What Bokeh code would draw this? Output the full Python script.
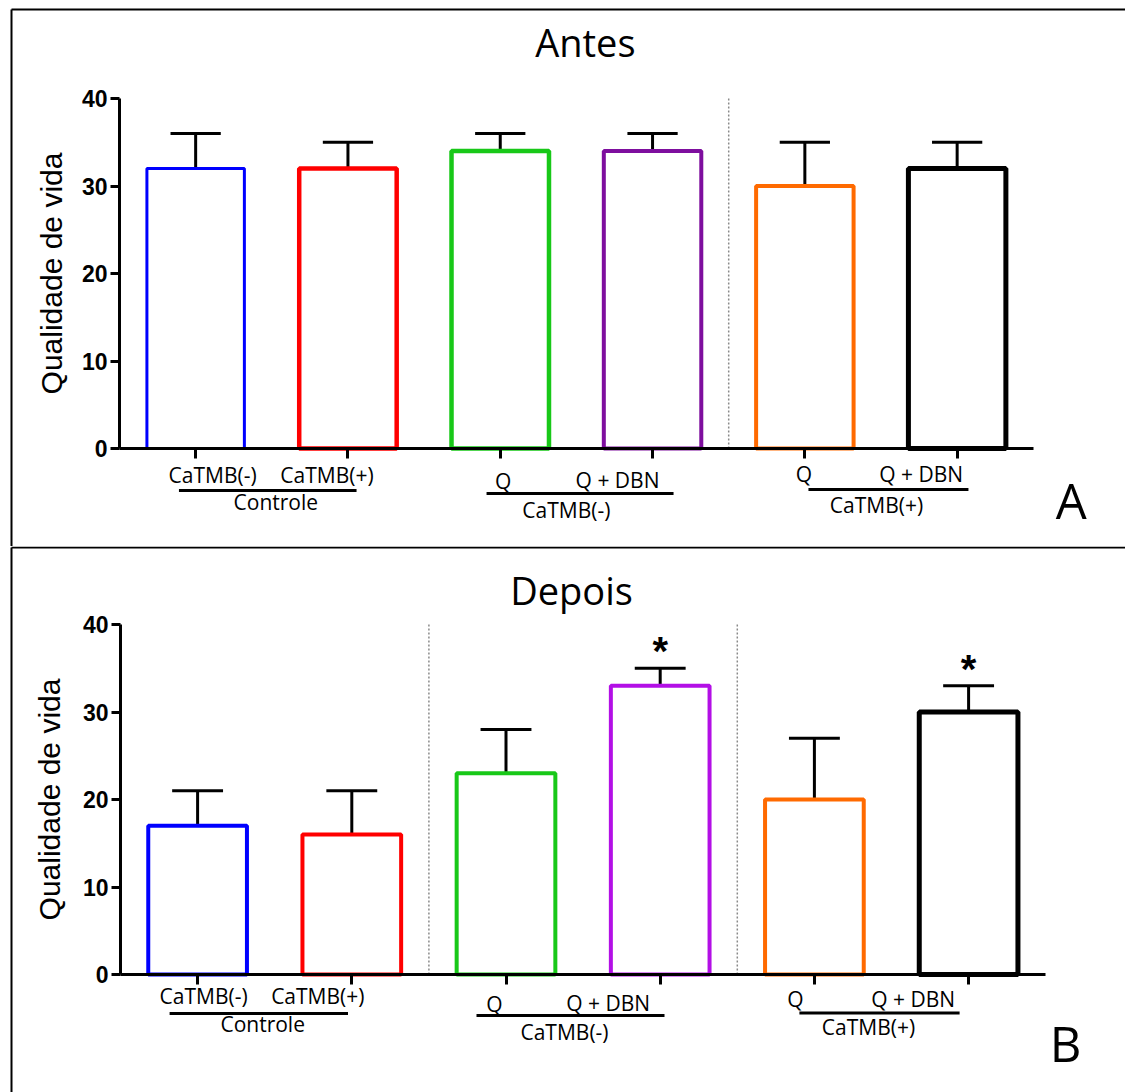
import math
from bokeh.plotting import figure
from bokeh.layouts import column
from bokeh.models import Range1d, LinearAxis, FixedTicker, ColumnDataSource
from bokeh.core.properties import value
from bokeh.embed import file_html
from bokeh.resources import INLINE

# ---------------- data ----------------
group_names = ["Controle", "CaTMB(-)", "CaTMB(+)"]
sub_labels = ["CaTMB(-)", "CaTMB(+)", "Q", "Q + DBN", "Q", "Q + DBN"]
antes_mean = [32, 32, 34, 34, 30, 32]
antes_err = [4, 3, 2, 2, 5, 3]
antes_signif = [False, False, False, False, False, False]
depois_mean = [17, 16, 23, 33, 20, 30]
depois_err = [4, 5, 5, 2, 7, 3]
depois_signif = [False, False, False, True, False, True]
y_ticks = [0, 10, 20, 30, 40]
y_label = "Qualidade de vida"

# ---------------- styles ----------------
antes_colors = ["#0000FF", "#FF0000", "#18C818", "#7E0E9E", "#FF6A00", "#000000"]
depois_colors = ["#0000FF", "#FF0000", "#18C818", "#B30FE6", "#FF6A00", "#000000"]
antes_lw = [3, 4.5, 4.5, 4, 4, 5]
depois_lw = [4, 4, 4, 4, 4, 5]
LABEL_FONT = "Open Sans"
AXIS_FONT = "Liberation Sans"
W = 1125
BASE_SHIFT = 0.41   # empirical correction of the alphabetic baseline (fraction of font size)
SUB_FS, GRP_FS, TITLE_FS, LETTER_FS, STAR_FS = 21, 21, 38, 49, 40

layout_A = dict(height=546, ax=119, ux=152.3, zero=448, uy=8.75,
                seps=[3.5], border_left=11, border_top=9,
                sub_dx=[17, -21, 3, -35, -1, -36], sub_dy=[35, 35, 41, 40, 34, 34],
                lines=[(0, -16.7, 1, 8.6, 42), (2, -13.7, 3, 21, 45), (4, 3.6, 5, 11.3, 41)],
                grp_dx=[4, -10, -4.5], grp_dy=[62, 70, 65],
                title_dx=9, title_dy=-41, letter_dx=38, letter_dy=72, ylab_dx=-68)
layout_B = dict(height=546, ax=120, ux=154.2, zero=428, uy=8.75,
                seps=[1.5, 3.5], border_left=11, border_top=1,
                sub_dx=[6, -34, -11.5, -52, -19, -55.5], sub_dy=[30, 30, 38, 37, 33, 33],
                lines=[(0, -28, 1, -3.8, 39), (2, -29.5, 3, 4.3, 41), (4, -15, 5, -9, 38.5)],
                grp_dx=[-12, -18.6, -23], grp_dy=[58, 66.5, 61],
                title_dx=-11.6, title_dy=-19, letter_dx=20, letter_dy=89, ylab_dx=-71)


def make_panel(title, letter, means, errs, signif, colors, lws, L):
    n = len(means)
    idx = list(range(n))
    x0 = -0.5 - L["ax"] / L["ux"]
    x1 = x0 + W / L["ux"]
    y1 = L["zero"] / L["uy"]
    y0 = -(L["height"] - L["zero"]) / L["uy"]
    p = figure(width=W, height=L["height"], x_range=Range1d(x0, x1), y_range=Range1d(y0, y1),
               output_backend="svg", toolbar_location=None, title=None,
               x_axis_type=None, y_axis_type=None,
               min_border_left=0, min_border_right=0, min_border_top=0, min_border_bottom=0)
    p.outline_line_color = None
    p.background_fill_color = "white"
    p.border_fill_color = "white"

    # panel border (left and top edges of the boxed panel, open to the right and bottom)
    bx = x0 + L["border_left"] / L["ux"]
    by = y1 - L["border_top"] / L["uy"]
    p.segment(x0=[bx, bx], y0=[by, by], x1=[bx, x1 + 1], y1=[y0 - 1, by],
              line_color="black", line_width=2)

    # separators between groups
    for s in L["seps"]:
        p.segment(x0=[s], y0=[0], x1=[s], y1=[y_ticks[-1]], line_color="#8a8a8a",
                  line_width=1.5, line_dash="2 2")

    # error bars (upper only)
    tops = [m + e for m, e in zip(means, errs)]
    p.segment(x0=idx, y0=means, x1=idx, y1=tops, line_color="black", line_width=3)
    cap = 0.165
    p.segment(x0=[i - cap for i in idx], y0=tops, x1=[i + cap for i in idx], y1=tops,
              line_color="black", line_width=3)

    # bars
    src = ColumnDataSource(dict(x=idx, top=means, c=colors, lw=lws))
    p.vbar(x="x", top="top", bottom=0, width=0.64, source=src, fill_color="white",
           line_color="c", line_width="lw")

    # significance stars
    sx = [i for i in idx if signif[i]]
    sy = [tops[i] for i in idx if signif[i]]
    if sx:
        p.text(x=sx, y=sy, text=["*"] * len(sx), text_align="center", text_baseline="alphabetic",
               y_offset=-17, text_font=value(AXIS_FONT), text_font_style="bold",
               text_font_size=f"{STAR_FS}px", text_color="black")

    # axes
    xa = LinearAxis(fixed_location=0, bounds=(-0.5, n - 0.5),
                    ticker=FixedTicker(ticks=idx),
                    major_label_overrides={i: "" for i in idx})
    xa.axis_line_width = 3
    xa.major_tick_line_width = 3
    xa.major_tick_in = 0
    xa.major_tick_out = 10
    xa.minor_tick_line_color = None
    xa.major_label_text_font_size = "1px"
    p.add_layout(xa, "below")

    ya = LinearAxis(fixed_location=-0.5, bounds=(y_ticks[0], y_ticks[-1]),
                    ticker=FixedTicker(ticks=y_ticks))
    ya.axis_line_width = 3
    ya.major_tick_line_width = 3
    ya.major_tick_in = 0
    ya.major_tick_out = 9
    ya.minor_tick_line_color = None
    ya.major_label_standoff = 3
    ya.major_label_text_font = AXIS_FONT
    ya.major_label_text_font_style = "bold"
    ya.major_label_text_font_size = "23px"
    ya.major_label_text_color = "black"
    p.add_layout(ya, "left")

    # y label
    p.text(x=[-0.5], y=[sum(y_ticks) / len(y_ticks)], text=[y_label], angle=math.pi / 2,
           x_offset=L["ylab_dx"], text_align="center", text_baseline="middle",
           text_font=value(AXIS_FONT), text_font_size="30px", text_color="black")

    def base(dy, fs):
        return dy - BASE_SHIFT * fs

    # category sub labels
    lsrc = ColumnDataSource(dict(x=idx, y=[0] * n, t=sub_labels, dx=L["sub_dx"],
                                 dy=[base(d, SUB_FS) for d in L["sub_dy"]]))
    p.text(x="x", y="y", text="t", x_offset="dx", y_offset="dy", source=lsrc,
           text_align="center", text_baseline="alphabetic",
           text_font=value(LABEL_FONT), text_font_size=f"{SUB_FS}px", text_color="black")

    # group underlines and group names
    gx = []
    for (i0, d0, i1, d1, dy) in L["lines"]:
        yy = -dy / L["uy"]
        p.segment(x0=[i0 + d0 / L["ux"]], y0=[yy], x1=[i1 + d1 / L["ux"]], y1=[yy],
                  line_color="black", line_width=3)
        gx.append((i0 + i1) / 2)
    gsrc = ColumnDataSource(dict(x=gx, y=[0] * len(gx), t=group_names, dx=L["grp_dx"],
                                 dy=[base(d, GRP_FS) for d in L["grp_dy"]]))
    p.text(x="x", y="y", text="t", x_offset="dx", y_offset="dy", source=gsrc,
           text_align="center", text_baseline="alphabetic",
           text_font=value(LABEL_FONT), text_font_size=f"{GRP_FS}px", text_color="black")

    # title
    p.text(x=[(n - 1) / 2], y=[y_ticks[-1]], text=[title], x_offset=L["title_dx"],
           y_offset=base(L["title_dy"], TITLE_FS), text_align="center", text_baseline="alphabetic",
           text_font=value(LABEL_FONT), text_font_size=f"{TITLE_FS}px", text_color="black")

    # panel letter
    p.text(x=[n - 0.5], y=[0], text=[letter], x_offset=L["letter_dx"],
           y_offset=base(L["letter_dy"], LETTER_FS),
           text_align="center", text_baseline="alphabetic",
           text_font=value(LABEL_FONT), text_font_size=f"{LETTER_FS}px", text_color="black")
    return p


pA = make_panel("Antes", "A", antes_mean, antes_err, antes_signif, antes_colors, antes_lw, layout_A)
pB = make_panel("Depois", "B", depois_mean, depois_err, depois_signif, depois_colors, depois_lw, layout_B)

layout = column(pA, pB, spacing=0)
open("out.html", "w").write(file_html(layout, INLINE))
